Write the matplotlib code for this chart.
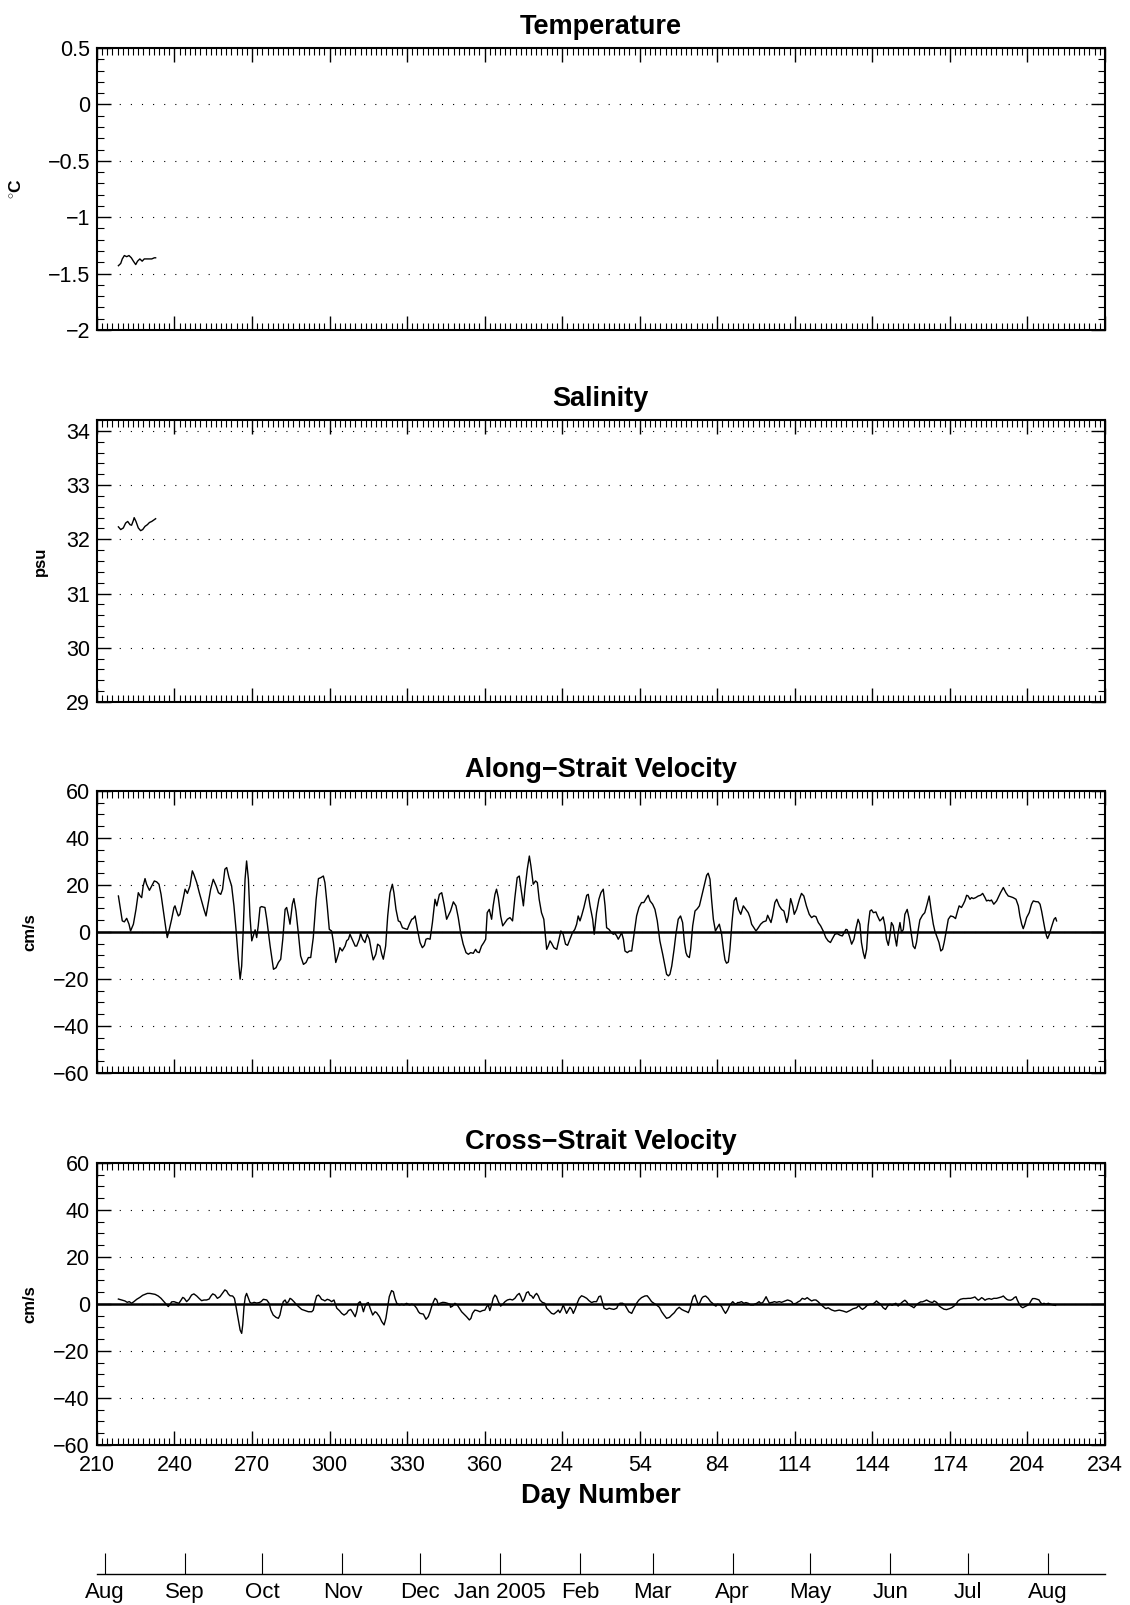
import datetime as dt
import matplotlib
matplotlib.use('Agg')
import matplotlib.pyplot as plt
from matplotlib.ticker import MultipleLocator, FuncFormatter

plt.rcParams['font.family'] = ['Liberation Sans', 'DejaVu Sans']
plt.rcParams['mathtext.fontset'] = 'custom'
plt.rcParams['mathtext.rm'] = 'Liberation Sans:bold'

# ---- data (day number counted on from 1 Jan 2004) ----
temp_day = [218.3, 219.2, 219.8, 220.6, 221.5, 222.4, 223.3, 224.1, 225.0,
            225.7, 226.6, 227.5, 228.3, 229.2, 230.1, 231.2, 232.2, 232.7]
temp_val = [-1.43, -1.41, -1.37, -1.34, -1.35, -1.34, -1.36, -1.39, -1.42,
            -1.39, -1.37, -1.39, -1.37, -1.37, -1.37, -1.37, -1.36, -1.36]

sal_day = [218.3, 219.2, 220.2, 221.1, 221.9, 222.8, 223.4, 224.1, 224.4, 225.1,
           226.0, 226.9, 227.7, 228.6, 229.5, 230.3, 231.2, 232.1, 232.7]
sal_val = [32.23, 32.18, 32.21, 32.30, 32.33, 32.27, 32.26, 32.35, 32.40, 32.33,
           32.21, 32.16, 32.18, 32.24, 32.27, 32.31, 32.33, 32.36, 32.38]

along_day = [
    218.3, 219.2, 219.8, 220.6, 221.5, 222.4, 223.0, 224.1, 225.1, 226.0,
    226.7, 227.3, 227.9, 228.6, 229.2, 230.3, 231.2, 232.2, 233.1, 234.0,
    234.8, 235.7, 236.7, 237.2, 238.0, 238.9, 239.8, 240.2, 240.8, 241.5,
    242.1, 243.2, 244.1, 245.0, 246.0, 246.9, 247.5, 248.6, 249.6, 250.5,
    251.4, 252.2, 253.1, 254.0, 255.0, 256.1, 257.0, 257.9, 258.6, 259.5,
    260.2, 261.1, 262.1, 263.0, 263.8, 264.7, 265.4, 266.0, 266.6, 267.3,
    267.9, 268.6, 269.2, 269.9, 270.5, 271.2, 271.8, 272.4, 273.1, 273.7,
    275.0, 275.7, 277.0, 278.3, 279.3, 280.2, 281.1, 281.9, 282.8, 283.4,
    284.1, 284.7, 285.6, 286.2, 287.0, 287.9, 288.8, 289.9, 290.9, 291.8,
    292.7, 293.7, 294.8, 295.7, 296.6, 297.6, 298.2, 299.1, 299.9, 300.8,
    301.5, 302.4, 303.4, 304.0, 304.9, 306.0, 306.6, 307.3, 307.9, 309.0,
    309.9, 310.5, 311.5, 312.0, 312.8, 313.7, 314.6, 315.4, 316.3, 316.9,
    317.9, 318.6, 319.5, 320.2, 320.8, 321.7, 322.5, 323.4, 324.3, 324.9,
    325.7, 326.6, 327.3, 328.2, 329.2, 330.1, 330.9, 331.8, 332.4, 333.1,
    334.0, 335.0, 335.9, 336.7, 337.3, 338.0, 338.9, 339.8, 340.8, 341.5,
    342.5, 343.4, 344.3, 345.3,
    346.8, 347.9, 348.9, 349.8, 350.7, 351.7, 352.8, 353.7, 354.6, 355.6,
    356.5, 357.1, 357.9, 358.8, 359.7, 360.4, 361.0, 361.8, 362.7, 363.3,
    364.0, 364.6, 365.3, 366.2, 367.0, 367.9, 368.8, 369.8, 370.8, 371.7,
    372.6, 373.4, 374.3, 375.0, 375.6, 376.5, 377.3, 377.9, 378.8, 379.7,
    380.4, 381.1, 382.0, 382.9, 384.0, 384.6, 385.3, 385.9, 386.8, 387.9,
    388.8, 389.5, 390.4, 391.3, 392.1, 393.0, 394.0, 394.9, 395.6, 396.2,
    396.9, 397.5, 398.4, 399.5, 400.1, 400.8, 401.8, 402.4, 403.3, 404.2,
    405.0, 405.9, 406.6, 407.2, 408.1, 409.1, 409.8, 410.4, 411.1, 411.7,
    412.4, 413.0, 413.7, 414.3, 415.2, 416.0, 416.9, 417.8, 418.8, 419.7,
    420.7, 421.6, 422.7, 423.3, 424.0, 425.0, 425.9, 426.8, 427.8, 428.9,
    429.8, 430.4, 431.1, 431.7, 432.4, 433.3, 434.0, 434.9, 435.8, 436.6,
    437.3, 437.9, 438.4, 439.2, 439.7, 440.5, 441.4, 442.3, 443.1, 444.0,
    444.9, 445.9, 446.5, 447.2, 447.8, 448.5, 449.3, 450.0, 450.8, 451.7,
    452.4, 453.0, 453.6, 454.3, 454.9, 455.7, 456.5, 457.3, 458.2, 459.1,
    460.1, 461.1, 462.0, 462.7, 463.3, 464.2, 465.0, 465.9, 466.8, 467.8,
    468.9, 469.5, 470.2, 470.8, 471.4, 472.3, 473.0, 474.0, 474.9, 475.8,
    476.9, 477.5, 478.4, 479.2, 479.8, 480.7, 481.8,
    482.6, 483.5, 484.5, 485.6, 486.5, 487.4, 488.2, 489.1, 490.0, 491.0,
    492.0, 492.9, 493.8, 494.6, 495.5, 496.4, 497.5, 498.4, 499.1, 499.8,
    500.3, 501.1, 502.0, 502.9, 503.6, 504.5, 505.2, 505.8, 506.5, 507.1,
    507.8, 508.4, 509.1, 509.7, 510.4, 511.4, 512.0, 512.9, 513.6, 514.2,
    514.9, 515.5, 516.2, 516.8, 517.4, 518.1, 518.7, 519.4, 520.0, 520.7,
    521.3, 522.0, 522.6, 523.5, 524.3, 525.2, 525.8, 526.5, 527.1, 527.8,
    528.4, 529.4, 530.3, 531.2, 532.0, 532.9, 533.6, 534.2, 534.9, 535.8,
    536.5, 537.2, 537.8, 538.5, 539.4, 540.3, 541.3, 542.2, 543.0, 543.6,
    544.5, 545.2, 545.8, 546.5, 547.1, 547.8, 548.4, 549.1, 550.0, 551.0,
    551.9, 552.7, 553.6, 554.2, 554.9, 555.5, 556.1, 557.0, 558.1, 558.7,
    559.6, 560.7, 561.7, 562.6, 563.5, 564.5, 565.6, 566.5, 567.1, 567.8,
    568.4, 569.0, 569.7, 570.7, 571.6, 572.3, 573.2, 574.2, 574.9, 575.5,
    576.1, 576.8, 577.4, 577.8, 578.5, 579.4, 580.3, 580.9, 581.3]
along_val = [
    15.3, 8.9, 4.7, 4.3, 5.8, 3.3, 0.4, 3.3, 9.6, 16.7,
    15.3, 14.6, 19.6, 22.7, 20.3, 17.7, 19.6, 21.7, 21.3, 20.3,
    16.0, 8.9, 1.1, -2.4, 1.1, 5.4, 10.4, 11.1, 8.9, 6.8,
    7.5, 13.2, 18.2, 16.4, 19.6, 26.0, 24.5, 21.0, 16.7, 13.2,
    9.6, 6.8, 12.5, 18.2, 22.4, 19.6, 16.7, 16.0, 18.2, 26.7,
    27.4, 23.1, 19.6, 11.1, 1.1, -11.6, -20.1, -14.5, 1.1, 22.4,
    30.2, 22.4, 6.8, -3.8, -1.7, 0.9, -2.4, 2.6, 10.4, 10.8,
    10.4, 5.4, -6.0, -15.9, -15.2, -13.0, -11.6, -3.1, 9.6, 10.4,
    6.8, 3.3, 11.8, 14.2, 8.9, -0.3, -10.2, -13.8, -13.0, -10.9,
    -10.9, -2.4, 13.9, 22.7, 23.1, 23.8, 21.0, 11.1, 1.1, 0.4,
    -4.5, -13.0, -9.5, -6.7, -8.1, -6.0, -3.8, -3.1, -1.0, -3.8,
    -6.0, -6.0, -3.1, -0.6, -3.1, -4.5, -1.0, -3.1, -8.8, -11.9,
    -9.5, -5.2, -6.0, -9.5, -11.6, -6.0, 6.8, 16.7, 20.3, 16.7,
    9.6, 4.7, 4.3, 1.8, 1.4, 1.1, 3.3, 5.4, 5.7, 6.8,
    1.1, -4.5, -6.7, -5.7, -3.1, -2.8, -3.1, 4.0, 13.9, 11.1,
    16.0, 16.7, 11.8, 5.4,
    8.9, 12.8, 11.1, 6.1, -0.3, -5.2, -8.8, -9.5, -8.8, -9.1,
    -7.4, -8.5, -8.8, -6.0, -4.5, -3.1, 8.2, 9.6, 5.4, 11.1,
    16.0, 18.2, 14.6, 6.8, 2.6, 4.0, 5.4, 6.1, 4.7, 14.6,
    23.1, 23.8, 16.7, 11.1, 18.2, 26.7, 32.3, 28.1, 20.3, 21.7,
    21.0, 13.9, 8.2, 5.4, -7.4, -6.0, -3.8, -4.8, -6.7, -7.4,
    -3.1, 0.4, -1.0, -5.2, -5.7, -3.1, -0.3, 1.1, 3.3, 6.8,
    4.7, 6.8, 10.4, 15.6, 16.0, 11.1, 5.4, -1.0, 8.2, 13.9,
    16.7, 18.2, 11.1, 1.8, 1.1, -0.3, -1.0, -0.6, -1.7, -3.1,
    -1.7, -0.3, -3.1, -8.1, -8.8, -8.1, -8.1, -1.0, 6.8, 10.4,
    12.5, 12.5, 14.6, 15.6, 13.2, 11.8, 9.6, 4.7, -3.8, -9.5,
    -14.5, -18.0, -18.7, -18.0, -14.5, -7.4, -1.0, 5.4, 6.8, 4.0,
    -4.5, -8.8, -10.2, -10.9, -7.4, 2.6, 8.9, 9.9, 11.1, 15.3,
    19.6, 24.1, 25.0, 22.4, 13.9, 5.4, 0.4, 1.8, 3.3, -1.0,
    -7.4, -11.9, -13.3, -12.8, -7.4, 4.0, 13.2, 14.6, 9.6, 7.5,
    11.1, 9.6, 8.2, 6.1, 3.3, 1.8, 0.4, 1.8, 3.3, 4.3,
    4.7, 7.1, 5.4, 4.0, 6.8, 12.5, 13.9, 11.1, 9.6, 8.9,
    4.0, 6.8, 14.2, 11.1, 7.5, 9.6, 13.9,
    16.4, 15.3, 11.1, 7.5, 6.1, 6.8, 6.5, 4.0, 2.6, 0.4,
    -2.4, -3.8, -4.5, -2.8, -1.0, -0.7, -1.4, -1.7, -0.3, 1.1,
    0.9, -1.7, -5.2, -3.1, 1.1, 5.4, 3.3, -4.5, -8.8, -11.3,
    -7.4, 2.6, 8.9, 9.4, 8.2, 8.5, 6.8, 4.7, 5.4, 6.4,
    2.6, -3.1, -5.7, -1.7, 4.0, 2.6, -1.7, -6.0, -0.3, 4.0,
    -0.3, 1.1, 7.5, 9.6, 5.4, -1.7, -6.0, -7.1, -4.5, 1.1,
    5.1, 7.1, 8.2, 11.8, 15.3, 8.2, 3.3, 0.4, -1.7, -4.5,
    -8.1, -7.4, -4.5, -0.3, 5.4, 6.8, 6.5, 5.7, 8.9, 11.1,
    10.4, 11.8, 13.2, 15.6, 15.3, 13.9, 14.6, 14.2, 14.6, 15.3,
    15.6, 16.4, 14.6, 13.2, 13.5, 13.2, 13.6, 11.8, 13.2, 14.6,
    16.7, 18.9, 16.7, 15.3, 15.0, 14.6, 13.9, 11.1, 6.8, 3.3,
    1.4, 3.3, 6.1, 8.2, 11.8, 13.2, 12.9, 12.8, 11.8, 8.9,
    5.4, 1.1, -1.7, -2.8, -1.0, 2.3, 5.4, 6.1, 4.7]

cross_day = [
    218.3, 219.6, 220.8, 221.7, 222.5, 223.4, 224.3, 225.4, 226.6, 227.7,
    228.6, 229.5, 230.5, 231.6, 232.5, 233.7, 234.8, 235.9, 237.0, 237.6,
    238.3, 238.9, 239.8, 240.8, 241.7, 242.4, 243.2, 243.8, 244.7, 245.6,
    246.6, 247.5, 248.6, 249.6, 250.5, 251.4, 252.4, 253.4, 254.1, 254.8,
    255.7, 256.6, 257.6, 258.5, 259.5, 260.2, 260.8, 261.5, 262.5, 263.2,
    263.8, 264.7, 265.4, 266.0, 266.4, 266.9, 267.4, 267.9, 268.6, 269.2,
    269.9, 270.8, 271.8, 272.8, 273.5, 274.4, 275.7, 276.6, 277.3, 278.2,
    279.3, 280.2, 280.8, 281.5, 282.1, 282.8, 283.4, 284.1, 284.7, 285.3,
    286.2, 287.3, 288.3, 289.2, 290.5, 291.8, 293.1, 293.7, 294.4, 295.0,
    295.7, 296.3, 296.9, 297.6, 298.2, 299.1, 299.9, 300.8, 301.7, 302.8,
    303.8, 304.7, 305.6, 306.6, 307.3, 308.2, 309.0, 309.9, 310.5, 311.1,
    311.8, 312.4, 313.1, 313.7, 314.4, 315.0, 315.7, 316.7, 317.6, 318.2,
    319.3, 320.2, 321.1, 321.8, 322.5, 323.1, 324.0, 324.7, 325.3, 326.0,
    327.0, 327.9, 328.8, 329.8, 330.9, 331.8, 332.7, 333.7, 334.4, 335.0,
    336.3, 337.3, 338.2, 338.9, 339.5, 340.2, 340.8, 341.5, 342.1, 342.7,
    343.8, 344.7, 345.6, 346.6,
    346.8, 347.6, 348.5, 349.4, 350.2, 351.1, 352.0, 353.0, 354.1, 354.7,
    355.3, 356.2, 357.1, 358.2, 359.2, 360.1, 360.8, 361.4, 362.0, 362.7,
    363.3, 364.0, 364.6, 365.3, 366.2, 367.0, 367.9, 368.8, 369.8, 370.8,
    371.7, 372.6, 373.4, 374.0, 374.7, 375.3, 376.2, 376.9, 377.5, 378.2,
    378.8, 379.5, 380.1, 380.8, 381.4, 382.3, 383.3, 384.0, 384.9, 385.9,
    386.8, 387.9, 388.5, 389.1, 389.8, 390.4, 391.1, 391.7, 392.4, 393.0,
    393.7, 394.3, 395.2, 395.8, 396.6, 397.5, 398.4, 399.5, 400.4, 401.4,
    402.3, 403.3, 404.2, 404.9, 405.5, 406.2, 407.2, 408.2, 409.1, 410.0,
    411.1, 411.7, 412.4, 413.4, 414.3, 415.0, 415.8, 416.9, 417.5, 418.2,
    418.8, 419.7, 420.7, 422.0, 422.9, 423.7, 424.6, 425.5, 426.5, 427.6,
    428.5, 429.4, 430.4, 431.5, 432.4, 433.4, 434.3, 435.3, 436.2, 437.1,
    438.2, 438.8, 439.5, 440.1, 440.7, 441.4, 442.0, 442.7, 443.3, 444.0,
    444.6, 445.5, 446.5, 447.4, 448.2, 448.7, 449.5, 450.1, 451.1, 451.7,
    452.4, 453.2, 454.0, 454.9, 456.0, 456.6, 457.2, 457.9, 458.5, 459.4,
    460.3, 461.1, 462.0, 462.9, 464.0, 464.6, 465.3, 466.2, 466.8, 467.6,
    468.2, 468.9, 469.5, 470.2, 470.8, 471.4, 472.1, 473.0, 474.0, 474.9,
    475.6, 476.2, 477.2, 478.1, 478.8, 479.4, 480.5, 481.4, 482.0,
    482.9, 483.9, 484.8, 485.6, 486.5, 487.4, 488.2, 489.1, 490.0, 491.0,
    492.0, 492.9, 494.2, 495.5, 497.2, 498.7, 500.0, 501.3, 502.6, 503.9,
    504.8, 505.4, 506.2, 507.1, 508.0, 509.1, 510.1, 511.0, 511.6, 512.3,
    513.2, 514.2, 515.1, 515.9, 516.8, 517.7, 518.3, 519.1, 520.0, 520.7,
    521.7, 522.6, 523.3, 523.9, 524.5, 525.4, 526.1, 526.9, 527.8, 528.7,
    529.4, 530.3, 531.0, 531.6, 532.3, 533.3, 533.9, 534.6, 535.2, 535.9,
    536.8, 537.7, 538.7, 539.8, 540.7, 541.6, 542.6, 543.2, 544.1, 545.2,
    546.2, 547.1, 548.0, 549.0, 549.7, 550.3, 551.0, 551.6, 552.3, 552.9,
    553.6, 554.2, 555.2, 556.1, 557.0, 558.1, 559.1, 560.0, 560.7, 561.3,
    562.0, 562.6, 563.5, 564.3, 564.9, 565.6, 566.1, 566.9, 567.5, 568.2,
    569.1, 570.0, 570.7, 571.4, 572.0, 572.9, 573.8, 574.5, 575.1, 575.8,
    576.4, 577.2, 578.1, 579.0, 580.0, 580.9]
cross_val = [
    2.1, 1.7, 1.3, 0.7, 1.0, 0.3, 1.0, 2.0, 2.8, 3.7,
    4.1, 4.5, 4.5, 4.3, 4.1, 3.4, 2.4, 1.0, -0.4, -1.1,
    -0.1, 0.9, 1.0, 0.6, 0.3, 1.4, 2.8, 2.4, 1.0, 2.0,
    3.8, 4.3, 3.4, 2.3, 1.4, 1.7, 1.7, 2.1, 3.4, 4.3,
    3.8, 2.4, 3.1, 4.5, 6.0, 5.5, 4.3, 3.5, 3.4, 2.4,
    -1.1, -6.8, -11.1, -12.5, -8.9, -1.1, 3.1, 4.5, 2.4, 0.7,
    0.3, 0.7, 0.4, 0.6, 1.0, 2.0, 1.7, 0.3, -2.6, -4.7,
    -5.7, -6.1, -4.7, -1.1, 1.0, 1.7, 0.3, 1.0, 2.4, 2.0,
    1.0, -0.4, -1.4, -2.3, -2.8, -3.3, -3.3, -2.6, 1.0, 3.4,
    3.8, 3.1, 2.0, 1.7, 1.3, 2.0, 1.7, 1.0, 1.7, -1.8,
    -2.8, -4.0, -4.7, -4.0, -2.8, -2.3, -3.7, -5.4, -3.3, 0.3,
    1.0, -0.4, -3.3, -1.1, 0.3, 0.6, -1.8, -4.7, -3.3, -3.7,
    -5.4, -7.5, -8.9, -6.1, -1.1, 3.1, 5.7, 5.2, 2.4, 0.3,
    -0.4, -0.1, -0.4, 0.3, -0.4, -0.1, -0.4, -1.8, -3.3, -4.0,
    -4.3, -6.5, -5.4, -3.3, -1.1, 1.0, 2.4, 1.7, -0.4, 0.3,
    0.7, 0.6, 0.3, -0.1,
    -1.4, -0.9, 0.3, -0.4, -1.8, -3.3, -4.3, -5.4, -6.8, -6.1,
    -4.0, -2.6, -2.8, -3.3, -2.8, -2.6, -1.1, -0.4, -2.8, -0.4,
    2.4, 3.8, 3.1, 1.0, -0.9, -0.1, 1.0, 1.7, 2.0, 1.7,
    2.4, 3.8, 4.5, 3.1, 1.0, 2.0, 4.8, 5.2, 3.8, 3.4,
    2.4, 3.8, 4.5, 3.4, 1.7, 0.7, 0.3, -1.8, -2.8, -4.0,
    -4.3, -3.3, -2.6, -3.7, -2.3, -0.4, -2.3, -4.0, -2.6, -1.4,
    -2.3, -4.0, -1.8, 0.3, 2.4, 3.5, 3.1, 2.4, 1.4, 0.6,
    1.0, 1.0, 3.1, 3.4, 1.0, -1.8, -2.3, -1.8, -2.1, -2.3,
    -1.8, -0.4, 0.3, 0.3, -0.4, -1.8, -3.3, -4.0, -2.6, -1.1,
    0.3, 1.7, 2.7, 3.4, 3.5, 2.4, 1.0, 0.3, -0.4, -1.4,
    -3.3, -4.7, -6.1, -5.7, -4.7, -3.7, -2.3, -1.4, -2.3, -2.8,
    -3.3, -3.7, -1.8, 1.0, 3.1, 3.8, 1.7, -0.4, 0.6, 2.4,
    3.1, 3.4, 2.4, 1.0, 0.3, -0.4, -0.9, -0.1, -0.4, -1.1,
    -2.6, -4.0, -2.6, -0.4, 1.0, 0.3, -0.1, 0.6, 0.6, 1.0,
    0.3, 0.6, 0.3, -0.4, -0.4, 0.0, 0.3, 1.0, 0.3, 0.6,
    1.7, 3.1, 1.7, 0.3, 0.6, 0.7, 1.0, 0.7, 1.0, 0.7,
    1.0, 1.3, 1.7, 1.4, 1.0, 0.0, 0.3, 1.0, 1.3,
    2.4, 2.0, 2.7, 2.0, 1.3, 1.7, 1.7, 0.9, -0.1, -1.1,
    -2.0, -1.6, -2.5, -3.0, -2.6, -3.0, -3.5, -2.8, -2.0, -1.6,
    -0.6, -1.6, -2.3, -1.6, -0.6, -0.1, -0.1, 0.6, 1.3, 0.6,
    -0.1, -1.6, -2.3, -0.9, -0.1, -0.6, -0.1, 0.3, -0.9, -0.1,
    0.9, 1.6, 0.9, -0.1, -0.6, -1.1, -1.6, -0.6, 0.3, 0.9,
    0.9, 1.3, 1.7, 1.3, 0.9, 0.6, 1.3, 0.9, 0.3, -0.9,
    -1.6, -2.2, -2.4, -2.0, -1.6, -0.9, 0.3, 1.3, 2.0, 2.3,
    2.3, 2.4, 2.4, 2.7, 3.0, 2.3, 1.6, 2.0, 2.7, 2.3,
    1.6, 2.0, 2.3, 2.0, 2.4, 2.4, 2.7, 3.0, 3.4, 2.7,
    2.0, 1.7, 1.6, 2.0, 2.7, 3.1, 1.7, -0.1, -1.1, -1.6,
    -1.1, -0.6, -0.1, 1.3, 2.3, 2.3, 2.0, 1.7, 0.6, -0.1,
    0.3, -0.1, 0.3, -0.1, -0.4, -0.6]

month_names = ['Aug', 'Sep', 'Oct', 'Nov', 'Dec', 'Jan 2005', 'Feb', 'Mar',
               'Apr', 'May', 'Jun', 'Jul', 'Aug']
month_dates = [dt.date(2004, 8, 1), dt.date(2004, 9, 1), dt.date(2004, 10, 1),
               dt.date(2004, 11, 1), dt.date(2004, 12, 1), dt.date(2005, 1, 1),
               dt.date(2005, 2, 1), dt.date(2005, 3, 1), dt.date(2005, 4, 1),
               dt.date(2005, 5, 1), dt.date(2005, 6, 1), dt.date(2005, 7, 1),
               dt.date(2005, 8, 1)]
month_pos = [(d - dt.date(2004, 1, 1)).days for d in month_dates]


def num_fmt(v, pos):
    return ('%g' % round(v, 6)).replace('-', '\u2212')


def day_fmt(v, pos):
    d = int(round(v))
    return str(d if d <= 366 else d - 366)


fig = plt.figure(figsize=(11.3, 16.05), dpi=100)
L, W, H = 0.0858, 0.892, 0.1757
panels = [
    # title, ylabel, x, y, ylim, major, minor, label x, zero line, bottom
    ('Temperature', r'$^{\circ}$C', temp_day, temp_val, (-2, 0.5), 0.5, 0.1, -0.071, False, 0.7944),
    ('Salinity', 'psu', sal_day, sal_val, (29, 34.2), 1, 0.2, -0.049, False, 0.5626),
    ('Along\u2212Strait Velocity', 'cm/s', along_day, along_val, (-60, 60), 20, 5, -0.059, True, 0.3315),
    ('Cross\u2212Strait Velocity', 'cm/s', cross_day, cross_val, (-60, 60), 20, 5, -0.059, True, 0.0997),
]

for i, (title, ylab, xs, ys, ylim, major, minor, labx, zero, bot) in enumerate(panels):
    ax = fig.add_axes([L, bot, W, H])
    ax.set_axisbelow(True)
    if zero:
        ax.axhline(0, color='k', lw=1.8, zorder=2)
    ax.plot(xs, ys, color='k', lw=1.0, zorder=3)
    ax.set_xlim(210, 600)
    ax.set_ylim(*ylim)
    ax.xaxis.set_major_locator(MultipleLocator(30))
    ax.xaxis.set_minor_locator(MultipleLocator(2))
    ax.yaxis.set_major_locator(MultipleLocator(major))
    ax.yaxis.set_minor_locator(MultipleLocator(minor))
    ax.yaxis.set_major_formatter(FuncFormatter(num_fmt))
    ax.xaxis.set_major_formatter(FuncFormatter(day_fmt))
    ax.yaxis.grid(True, which='major', color='k', lw=0.8, linestyle=(0, (1, 9)))
    ax.tick_params(which='both', direction='in', top=True, right=True, labelsize=15.5)
    ax.tick_params(which='major', length=10, width=1.0, pad=5)
    ax.tick_params(axis='x', which='major', pad=7)
    ax.tick_params(which='minor', length=5, width=0.8)
    for s in ax.spines.values():
        s.set_linewidth(1.5)
    ax.set_title(title, fontsize=19.5, fontweight='bold', pad=10)
    ax.set_ylabel(ylab, fontsize=12.5 if i == 0 else 12, fontweight='bold')
    ax.yaxis.set_label_coords(labx, 0.5)
    if i < 3:
        ax.tick_params(labelbottom=False)
    else:
        ax.set_xlabel('Day Number', fontsize=19.5, fontweight='bold', labelpad=5)

# month axis under the figure
axm = fig.add_axes([L, 1 - 1574 / 1605, W, 0.0001])
axm.set_xlim(210, 600)
axm.set_yticks([])
for side in ['top', 'left', 'right']:
    axm.spines[side].set_visible(False)
axm.spines['bottom'].set_linewidth(1.0)
axm.set_xticks(month_pos)
axm.set_xticklabels(month_names)
axm.tick_params(axis='x', direction='in', length=15, width=0.8, labelsize=16, pad=6)
axm.patch.set_visible(False)

fig.savefig('out.png', dpi=100)
